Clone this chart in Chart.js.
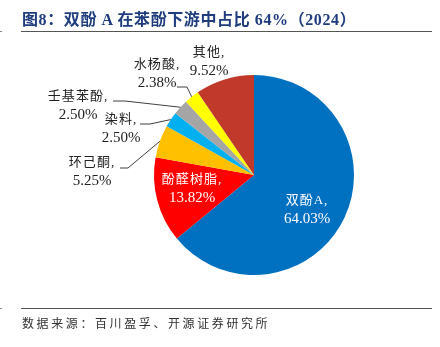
<!DOCTYPE html>
<html>
<head>
<meta charset="utf-8">
<script src="https://cdn.jsdelivr.net/npm/chart.js@4/dist/chart.umd.min.js"></script>
<style>
  html, body { margin:0; padding:0; background:#fff; }
  body { width:440px; height:347px; position:relative; overflow:hidden; }
  #c { position:absolute; left:0; top:0; }
  .title { position:absolute; left:22px; top:6px; font-family:"Liberation Serif","Noto Sans CJK SC",serif; font-weight:bold; font-size:16px; color:#1F3C7E; letter-spacing:0.6px; white-space:nowrap; }
  .rule { position:absolute; left:21px; width:411px; height:1px; background:#555; }
  .tick { position:absolute; left:0; width:2px; height:1px; background:#888; }
  .foot { position:absolute; left:22px; top:314px; font-family:"Noto Sans CJK SC",sans-serif; font-size:12px; color:#333; letter-spacing:2.6px; white-space:nowrap; }
</style>
</head>
<body>
<canvas id="c" width="440" height="347"></canvas>
<div class="title">图8：双酚 A 在苯酚下游中占比 64%（2024）</div>
<div class="rule" style="top:31px"></div>
<div class="tick" style="top:31px"></div>
<div class="rule" style="top:308px"></div>
<div class="tick" style="top:308px"></div>
<div class="foot">数据来源：百川盈孚、开源证券研究所</div>
<script>
const categories = ['双酚A', '酚醛树脂', '环己酮', '染料', '壬基苯酚', '水杨酸', '其他'];
const shares = [64.03, 13.82, 5.25, 2.50, 2.50, 2.38, 9.52];
const sliceColors = ['#0070C0', '#FF0000', '#FFC000', '#00B0F0', '#A5A5A5', '#FFFF00', '#C0392B'];

// label layout: offsets from pie centre (px); leader = start point offset + horizontal elbow length
const labelLayout = [
  { dx: 53,   dy: 26,   color: '#fff' },
  { dx: -62,  dy: 5,    color: '#fff' },
  { dx: -162, dy: -12,  color: '#222', leader: { sx: -134, sy: -7,  elbow: 8 } },
  { dx: -133, dy: -55,  color: '#222', leader: { sx: -114, sy: -51, elbow: 10 } },
  { dx: -176, dy: -78,  color: '#222', leader: { sx: -141, sy: -74, elbow: 12 } },
  { dx: -97,  dy: -110, color: '#222', leader: { sx: -77,  sy: -88, elbow: 10 } },
  { dx: -45,  dy: -122, color: '#222' }
];

const labelPlugin = {
  id: 'pieLabels',
  afterDatasetsDraw(chart) {
    const ctx = chart.ctx;
    const meta = chart.getDatasetMeta(0);
    ctx.save();
    meta.data.forEach((arc, i) => {
      const L = labelLayout[i];
      const cx = arc.x, cy = arc.y;
      if (L.leader) {
        const mid = (arc.startAngle + arc.endAngle) / 2;
        const ex = cx + arc.outerRadius * Math.cos(mid);
        const ey = cy + arc.outerRadius * Math.sin(mid);
        const sx = cx + L.leader.sx, sy = cy + L.leader.sy;
        ctx.beginPath();
        ctx.strokeStyle = '#404040';
        ctx.lineWidth = 1;
        ctx.moveTo(sx, sy);
        ctx.lineTo(sx + L.leader.elbow, sy);
        ctx.lineTo(ex, ey);
        ctx.stroke();
      }
      ctx.fillStyle = L.color;
      ctx.textAlign = 'center';
      ctx.textBaseline = 'middle';
      ctx.font = '13px "Liberation Serif", "Noto Sans CJK SC", serif';
      try { ctx.letterSpacing = '1px'; } catch (e) {}
      ctx.fillText(categories[i] + ',', cx + L.dx, cy + L.dy);
      ctx.font = '15px "Liberation Serif", serif';
      try { ctx.letterSpacing = '0px'; } catch (e) {}
      ctx.fillText(shares[i].toFixed(2) + '%', cx + L.dx, cy + L.dy + 18);
    });
    ctx.restore();
  }
};

new Chart(document.getElementById('c'), {
  type: 'pie',
  data: {
    labels: categories,
    datasets: [{
      data: shares,
      backgroundColor: sliceColors,
      borderWidth: 0
    }]
  },
  options: {
    responsive: false,
    devicePixelRatio: 1,
    animation: false,
    layout: { padding: { left: 154, right: 86, top: 75, bottom: 72 } },
    plugins: {
      legend: { display: false },
      tooltip: { enabled: false },
      title: { display: false }
    }
  },
  plugins: [labelPlugin]
});
</script>
</body>
</html>
